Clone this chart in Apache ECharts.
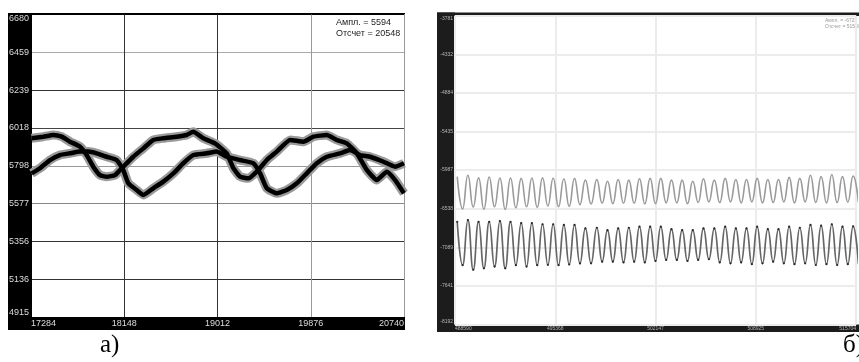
<!DOCTYPE html>
<html>
<head>
<meta charset="utf-8">
<style>
html, body { margin: 0; padding: 0; background: #fff; }
#main { width: 859px; height: 362px; }
</style>
<script src="https://cdn.jsdelivr.net/npm/echarts@6/dist/echarts.min.js"></script>
</head>
<body>
<div id="main"></div>
<script>
// panel a) - axis labels
var leftXLabels = ['17284', '18148', '19012', '19876', '20740'];
var leftYLabels = ['4915', '5136', '5356', '5577', '5798', '6018', '6239', '6459', '6680'];

// panel a) - curve that starts high
var curveAX = [17290, 17398, 17491, 17568, 17645, 17738, 17800, 17861, 17923, 17985,
               18062, 18139, 18232, 18325, 18417, 18510, 18634, 18726, 18788, 18881,
               18989, 19097, 19159, 19221, 19298, 19376, 19469, 19561, 19685, 19808,
               19901, 20025, 20117, 20210, 20303, 20395, 20488, 20581, 20658, 20740];
var curveAY = [5958, 5967, 5977, 5967, 5938, 5909, 5860, 5792, 5743, 5734,
               5743, 5792, 5850, 5899, 5948, 5958, 5967, 5977, 5996, 5958,
               5928, 5870, 5783, 5734, 5724, 5763, 5831, 5880, 5948, 5938,
               5967, 5977, 5948, 5928, 5870, 5773, 5714, 5763, 5714, 5637];

// panel a) - curve that starts low
var curveBX = [17290, 17367, 17460, 17552, 17645, 17738, 17815, 17892, 17985, 18077,
               18139, 18186, 18263, 18325, 18417, 18510, 18603, 18695, 18788, 18912,
               19005, 19097, 19221, 19345, 19407, 19469, 19561, 19654, 19747, 19839,
               19932, 20025, 20148, 20241, 20334, 20426, 20550, 20658, 20740];
var curveBY = [5753, 5783, 5831, 5860, 5870, 5880, 5880, 5870, 5850, 5831,
               5773, 5695, 5656, 5627, 5666, 5705, 5753, 5812, 5860, 5870,
               5880, 5850, 5831, 5812, 5753, 5666, 5637, 5656, 5695, 5753,
               5812, 5850, 5870, 5889, 5860, 5850, 5821, 5792, 5812];

// panel б) - axis labels
var rightXLabels = ['488590', '495368', '502147', '508925', '515704'];
var rightYLabels = ['-8192', '-7641', '-7089', '-6538', '-5987', '-5435', '-4884', '-4332', '-3781'];

// panel б) - peaks and troughs of both waves (same sample positions)
var waveX = [488741, 489102, 489462, 489823, 490183, 490544, 490904, 491265, 491625, 491986,
             492346, 492707, 493067, 493428, 493788, 494149, 494509, 494870, 495230, 495591,
             495951, 496312, 496672, 497040, 497407, 497790, 498180, 498540, 498901, 499262,
             499622, 499983, 500343, 500704, 501064, 501425, 501785, 502146, 502506, 502867,
             503227, 503588, 503948, 504309, 504669, 505030, 505390, 505757, 506124, 506491,
             506858, 507219, 507579, 507940, 508300, 508661, 509021, 509382, 509742, 510103,
             510463, 510824, 511184, 511545, 511905, 512266, 512626, 512987, 513347, 513708,
             514068, 514429, 514789, 515150, 515510, 515871];
var waveUpper = [-6080, -6540, -6060, -6515, -6095, -6545, -6085, -6510, -6100, -6550,
                 -6100, -6525, -6105, -6510, -6100, -6520, -6095, -6500, -6100, -6510,
                 -6110, -6505, -6105, -6480, -6130, -6470, -6120, -6460, -6145, -6465,
                 -6120, -6460, -6130, -6460, -6110, -6470, -6105, -6465, -6105, -6455,
                 -6130, -6455, -6130, -6465, -6145, -6450, -6110, -6440, -6130, -6450,
                 -6105, -6440, -6120, -6455, -6120, -6440, -6105, -6455, -6120, -6450,
                 -6120, -6440, -6090, -6455, -6105, -6440, -6060, -6450, -6080, -6455,
                 -6050, -6450, -6080, -6445, -6070, -6450];
var waveLower = [-6725, -7345, -6700, -7410, -6725, -7390, -6725, -7365, -6715, -7390,
                 -6725, -7345, -6745, -7365, -6745, -7345, -6760, -7340, -6760, -7345,
                 -6770, -7335, -6770, -7320, -6820, -7318, -6810, -7295, -6845, -7295,
                 -6820, -7305, -6810, -7295, -6795, -7305, -6795, -7285, -6795, -7270,
                 -6830, -7270, -6845, -7285, -6845, -7270, -6820, -7260, -6820, -7305,
                 -6795, -7318, -6820, -7305, -6820, -7330, -6795, -7318, -6830, -7295,
                 -6830, -7318, -6795, -7330, -6810, -7318, -6770, -7342, -6780, -7330,
                 -6760, -7342, -6795, -7330, -6790, -7330];

function pairs(xs, ys) {
    return xs.map(function (x, i) { return [x, ys[i]]; });
}
function labelFrom(list, min, step) {
    return function (v) { return list[Math.round((v - min) / step)]; };
}

var chart = echarts.init(document.getElementById('main'));
var option = {
    animation: false,
    grid: [
        { left: 31, top: 14.5, width: 373, height: 302.5 },
        { left: 455, top: 15.7, width: 413.8, height: 308.8 }
    ],
    xAxis: [
        {
            type: 'value', gridIndex: 0,
            min: 17284, max: 20740, interval: 864,
            axisLine: { show: false }, axisTick: { show: false },
            axisLabel: {
                color: '#dcdcdc', fontSize: 9, fontFamily: 'Liberation Sans', margin: 2,
                alignMinLabel: 'left', alignMaxLabel: 'right',
                formatter: labelFrom(leftXLabels, 17284, 864)
            },
            splitLine: { show: true, lineStyle: { width: 1, color: ['#000', '#333', '#333', '#999', '#999'] } }
        },
        {
            type: 'value', gridIndex: 1,
            min: 488590, max: 515704, interval: 6778.5,
            axisLine: { show: false }, axisTick: { show: false },
            axisLabel: {
                color: '#b5b5b5', fontSize: 5, fontFamily: 'Liberation Sans', margin: 2,
                alignMinLabel: 'left', alignMaxLabel: 'right',
                formatter: labelFrom(rightXLabels, 488590, 6778.5)
            },
            splitLine: { show: true, lineStyle: { width: 2, color: '#ececec' } }
        }
    ],
    yAxis: [
        {
            type: 'value', gridIndex: 0,
            min: 4915, max: 6680, interval: 220.625,
            axisLine: { show: false }, axisTick: { show: false },
            axisLabel: {
                color: '#dcdcdc', fontSize: 9, fontFamily: 'Liberation Sans', margin: 2,
                verticalAlignMinLabel: 'bottom', verticalAlignMaxLabel: 'top',
                formatter: labelFrom(leftYLabels, 4915, 220.625)
            },
            splitLine: { show: true, lineStyle: { width: 1,
                color: ['#000', '#333', '#333', '#888', '#999', '#444', '#333', '#aaa', '#000'] } }
        },
        {
            type: 'value', gridIndex: 1,
            min: -8192, max: -3781, interval: 551.375,
            axisLine: { show: false }, axisTick: { show: false },
            axisLabel: {
                color: '#b5b5b5', fontSize: 5, fontFamily: 'Liberation Sans', margin: 2,
                verticalAlignMinLabel: 'bottom', verticalAlignMaxLabel: 'top',
                formatter: labelFrom(rightYLabels, -8192, 551.375)
            },
            splitLine: { show: true, lineStyle: { width: 2, color: '#ececec' } }
        }
    ],
    series: [
        {
            name: 'A halo', type: 'line', xAxisIndex: 0, yAxisIndex: 0,
            data: pairs(curveAX, curveAY), smooth: 0.15, showSymbol: false,
            lineStyle: { color: '#9a9a9a', width: 9 }
        },
        {
            name: 'B halo', type: 'line', xAxisIndex: 0, yAxisIndex: 0,
            data: pairs(curveBX, curveBY), smooth: 0.15, showSymbol: false,
            lineStyle: { color: '#9a9a9a', width: 9 }
        },
        {
            name: 'A', type: 'line', xAxisIndex: 0, yAxisIndex: 0,
            data: pairs(curveAX, curveAY), smooth: 0.15, showSymbol: false,
            lineStyle: { color: '#000', width: 4.5 }
        },
        {
            name: 'B', type: 'line', xAxisIndex: 0, yAxisIndex: 0,
            data: pairs(curveBX, curveBY), smooth: 0.15, showSymbol: false,
            lineStyle: { color: '#000', width: 4.5 }
        },
        {
            name: 'upper', type: 'line', xAxisIndex: 1, yAxisIndex: 1,
            data: pairs(waveX, waveUpper), smooth: true, showSymbol: false,
            lineStyle: { color: '#9a9a9a', width: 1.6 }
        },
        {
            name: 'lower', type: 'line', xAxisIndex: 1, yAxisIndex: 1,
            data: pairs(waveX, waveLower), smooth: true,
            showSymbol: true, showAllSymbol: true, symbol: 'circle', symbolSize: 2.2,
            itemStyle: { color: '#2a2a2a' },
            lineStyle: { color: '#666', width: 1.7 }
        }
    ],
    graphic: [
        // frame of panel a)
        { type: 'rect', z: -1, shape: { x: 8, y: 13, width: 23, height: 317 }, style: { fill: '#000' } },
        { type: 'rect', z: -1, shape: { x: 8, y: 317, width: 397, height: 13 }, style: { fill: '#000' } },
        { type: 'rect', z: -1, shape: { x: 8, y: 13, width: 397, height: 1.5 }, style: { fill: '#000' } },
        // frame of panel б)
        { type: 'rect', z: -1, shape: { x: 437, y: 12.5, width: 18, height: 319.5 }, style: { fill: '#1c1c1c' } },
        { type: 'rect', z: -1, shape: { x: 437, y: 324.5, width: 422, height: 7.5 }, style: { fill: '#1c1c1c' } },
        { type: 'rect', z: -1, shape: { x: 437, y: 12.5, width: 422, height: 3.5 }, style: { fill: '#1c1c1c' } },
        // readouts
        { type: 'text', x: 336, y: 18, style: { text: 'Ампл. = 5594', font: '9px "Liberation Sans"', fill: '#222' } },
        { type: 'text', x: 336, y: 29, style: { text: 'Отсчет = 20548', font: '9px "Liberation Sans"', fill: '#222' } },
        { type: 'text', x: 825, y: 18, style: { text: 'Ампл. = -6725', font: '5px "Liberation Sans"', fill: '#9a9a9a' } },
        { type: 'text', x: 825, y: 24, style: { text: 'Отсчет = 515809', font: '5px "Liberation Sans"', fill: '#9a9a9a' } },
        // panel captions
        { type: 'text', x: 100, y: 333, style: { text: 'а)', font: '25px "Liberation Serif"', fill: '#000' } },
        { type: 'text', x: 843, y: 333, style: { text: 'б)', font: '25px "Liberation Serif"', fill: '#000' } }
    ]
};
chart.setOption(option);
window.onresize = function () { chart.resize(); };
</script>
</body>
</html>
